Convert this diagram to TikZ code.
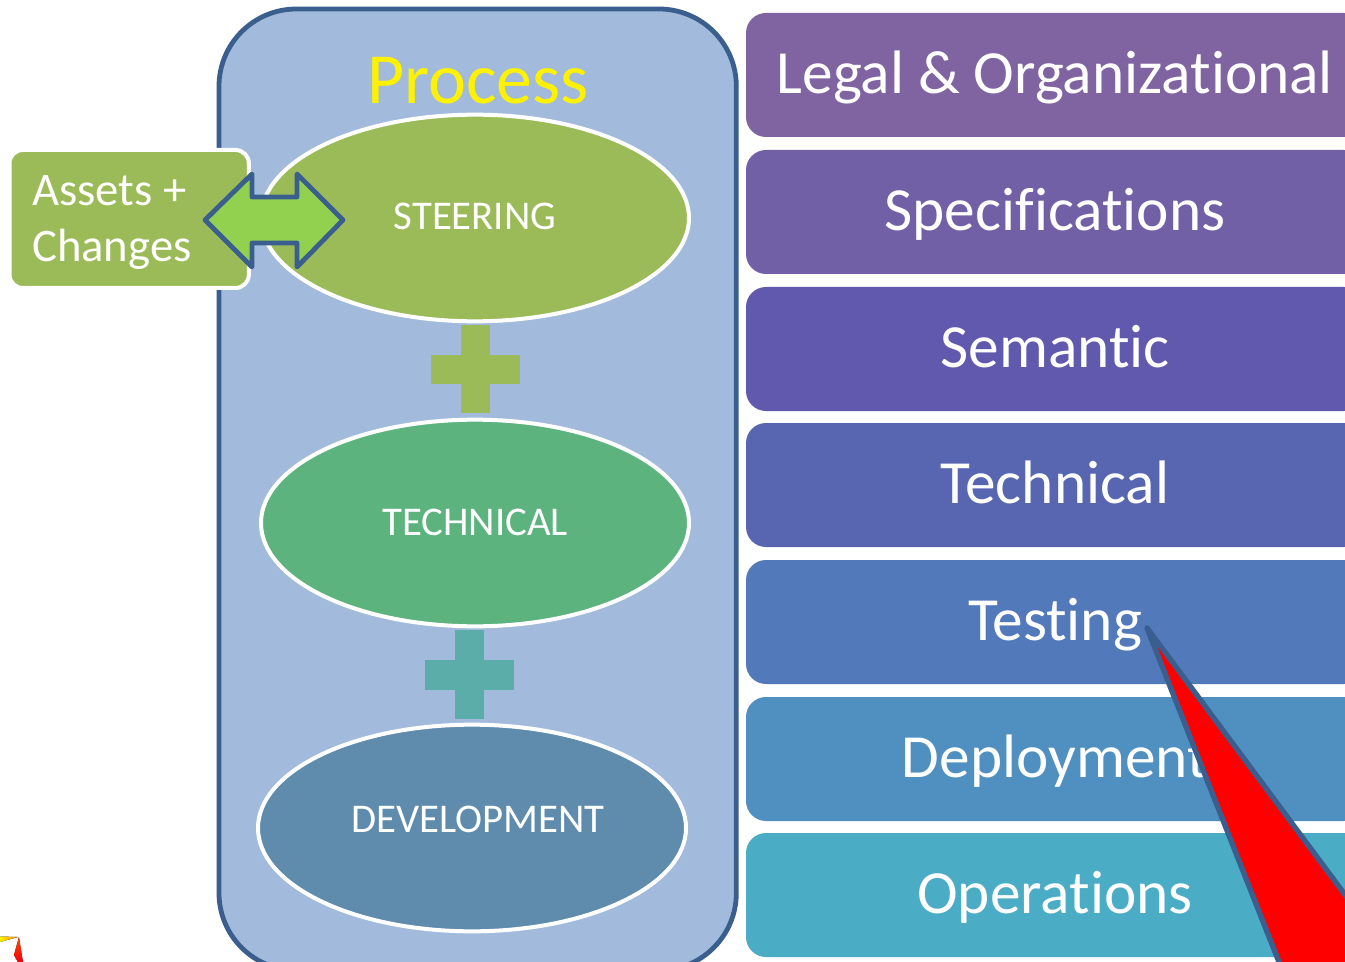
\documentclass[tikz,border=0pt]{standalone}
\usepackage{fontspec}
\setmainfont{Carlito}[Ligatures=NoCommon]
\usetikzlibrary{shapes.geometric}
\definecolor{edgeblue}{HTML}{3A5F8F}
\definecolor{procfill}{HTML}{A2BBDC}
\definecolor{cLegal}{HTML}{8064A2}
\definecolor{cSpec}{HTML}{7260A6}
\definecolor{cSem}{HTML}{6059AE}
\definecolor{cTech}{HTML}{5866B2}
\definecolor{cTest}{HTML}{5279BA}
\definecolor{cDep}{HTML}{4F90C0}
\definecolor{cOps}{HTML}{4BACC6}
\definecolor{cGreen}{HTML}{9BBB59}
\definecolor{cMint}{HTML}{5DB37E}
\definecolor{cDev}{HTML}{5F8BAD}
\definecolor{cPlus}{HTML}{5BADA9}
\definecolor{cArrow}{HTML}{92D050}
\tikzset{
  layerbox/.style={rounded corners=15pt,minimum width=463.5pt,minimum height=93pt,inner sep=0pt,outer sep=0pt,text=white,
    font=\fontsize{46}{46}\selectfont,text height=33pt,text depth=5pt,align=center},
  layerellipse/.style={ellipse,draw=white,line width=3pt,minimum width=321pt,minimum height=155pt,inner sep=0pt,text=white},
  ellipselabel/.style={text=white,font=\fontsize{30.6}{30.6}\selectfont,inner sep=0pt},
  assetslabel/.style={anchor=base west,text=white,font=\fontsize{35}{35}\selectfont,inner sep=0pt},
}
\begin{document}
\begin{tikzpicture}[x=0.75pt,y=-0.75pt]
\useasboundingbox (0,0) rectangle (1345,962);
\clip (0,0) rectangle (1345,962);
\fill[white] (0,0) rectangle (1345,962);
% corner star fragment
\fill[left color=yellow!90!orange,right color=orange] (0,936.5) -- (18,937) -- (0,942) -- cycle;
\fill[top color=orange!60!red,bottom color=red!80!purple] (19,937) -- (21,950) -- (23,962) -- (18,962) -- (14,955) -- cycle;
% process panel
\node[draw=edgeblue,fill=procfill,line width=3.6pt,rounded corners=58pt,outer sep=0pt,minimum width=388pt,minimum height=721pt,anchor=north west,inner sep=0pt] (panel) at (219,9) {};
\node[text=yellow,font=\fontsize{54}{54}\selectfont,text height=37pt,text depth=1pt,inner sep=0pt] (ptitle) at (478,80) {Process};
% ellipses
\node[layerellipse,fill=cGreen] (steer) at (475,218) {};
\node[layerellipse,fill=cMint] (tech) at (475,523) {};
\node[layerellipse,fill=cDev] (dev) at (472,828) {};
\node[ellipselabel] (steertxt) at (475,216.5) {STEERING};
\node[ellipselabel] (techtxt) at (475,522) {TECHNICAL};
\node[ellipselabel] (devtxt) at (478,819) {DEVELOPMENT};
% plus signs
\fill[cGreen] (461,325) rectangle (490,413);
\fill[cGreen] (431,355) rectangle (520,384);
\fill[cPlus] (455,630) rectangle (484,719);
\fill[cPlus] (425,660) rectangle (514,690);
% assets box
\node[draw=white,fill=cGreen,line width=3pt,rounded corners=10pt,outer sep=0pt,minimum width=179.5pt,minimum height=103.5pt,anchor=north west,inner sep=0pt] (assets) at (9.5,150) {};
\node[assetslabel] (a1) at (32,206) {Assets +};
\node[assetslabel] (a2) at (32,262) {Changes};
% double arrow
\draw[edgeblue,fill=cArrow,line width=3.6pt,line join=round] (205,220) -- (252,174) -- (252,197) -- (297,197) -- (297,174) -- (343,220) -- (297,267) -- (297,243) -- (252,243) -- (252,267) -- cycle;
% layers
\node[layerbox,fill=cLegal] (l1) at (1055,75) {Legal \& Organizational};
\node[layerbox,fill=cSpec] (l2) at (1055,212) {Specifications};
\node[layerbox,fill=cSem] (l3) at (1055,349) {Semantic};
\node[layerbox,fill=cTech] (l4) at (1055,485) {Technical};
\node[layerbox,fill=cTest] (l5) at (1055,622) {Testing};
\node[layerbox,fill=cDep] (l6) at (1055,759) {Deployment};
\node[layerbox,fill=cOps] (l7) at (1055,895) {Operations};
% red wedge
\draw[edgeblue,fill=red,line width=4pt,line join=round] (1147,628) -- (1360,915) -- (1360,1000) -- (1294,1000) -- cycle;
\end{tikzpicture}
\end{document}
